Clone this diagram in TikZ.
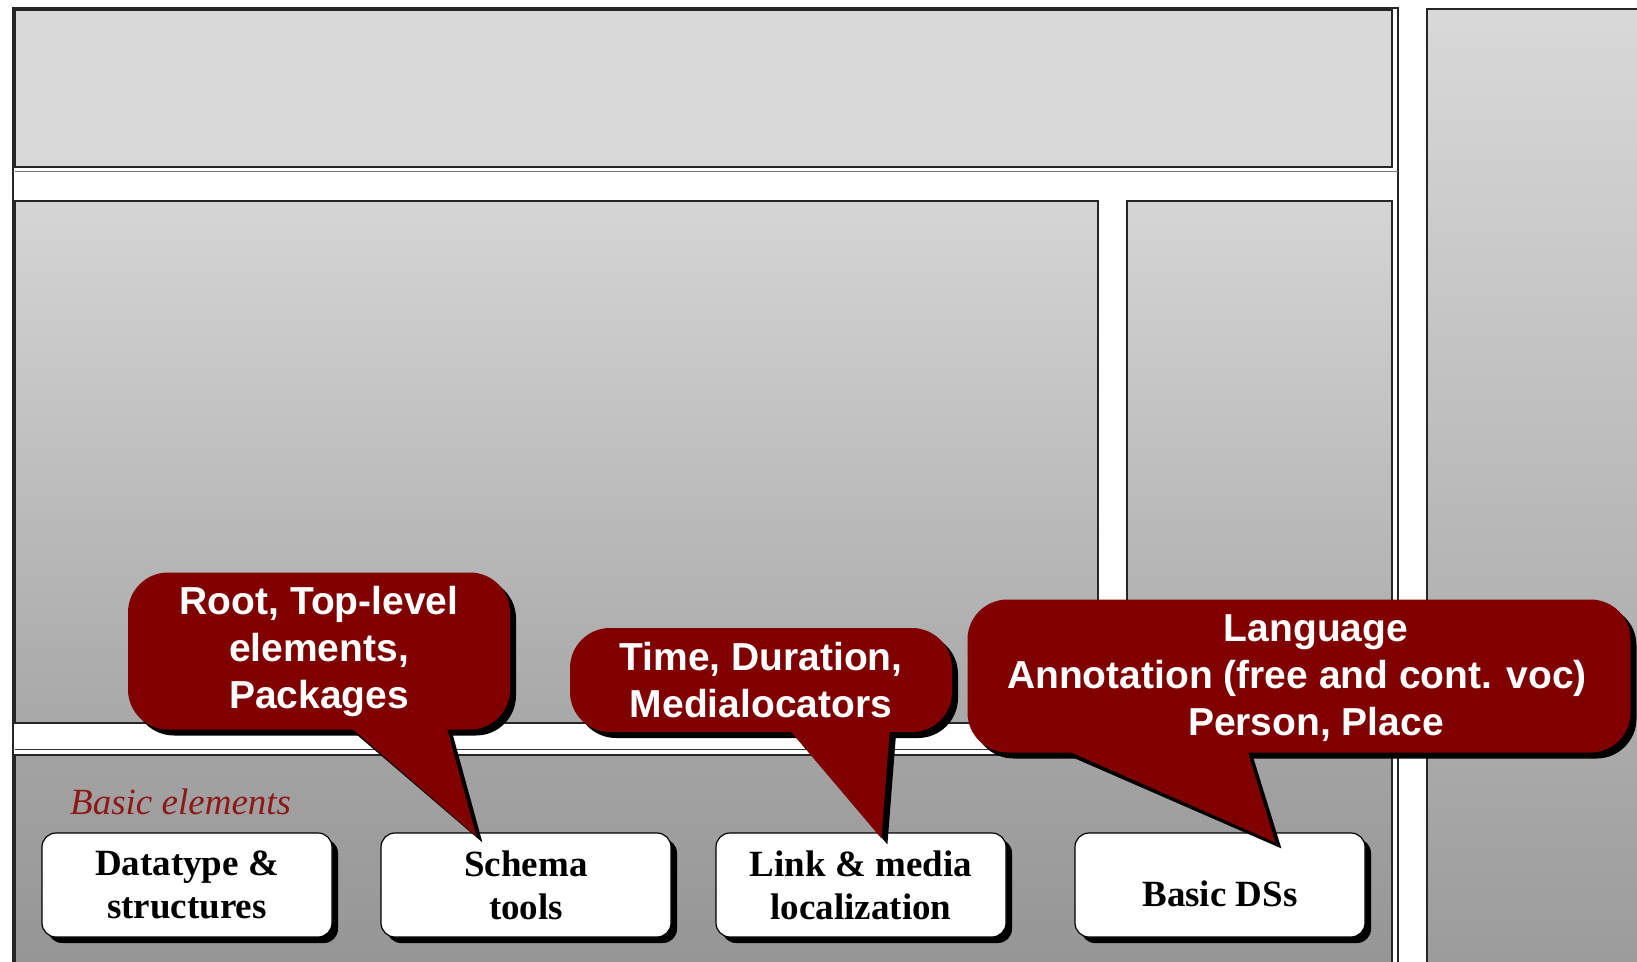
\documentclass[tikz,border=0pt]{standalone}
\usepackage{fontspec}
\setmainfont{Liberation Serif}
\setsansfont{Liberation Sans}
\usetikzlibrary{shadows}

\definecolor{notered}{RGB}{128,0,0}
\definecolor{titlered}{RGB}{140,24,24}
\definecolor{topgray}{RGB}{217,217,217}
\definecolor{midtop}{RGB}{213,213,213}
\definecolor{midbot}{RGB}{168,168,168}
\definecolor{lowtop}{RGB}{163,163,163}
\definecolor{lowbot}{RGB}{149,149,149}
\definecolor{sidebot}{RGB}{155,155,155}

\tikzset{
  panel/.style={draw=black!85, line width=1.5pt},
  elembox/.style={draw=black, line width=1.2pt, fill=white, rounded corners=14pt,
    minimum width=290pt, minimum height=104pt, align=center, inner sep=2pt,
    text depth=0pt, font=\fontsize{37}{43}\selectfont\bfseries,
    drop shadow={shadow xshift=6pt, shadow yshift=-6pt, fill=black, opacity=1}},
  bubble/.style={fill=notered, rounded corners=40pt, align=center, inner sep=4pt,
    text=white, font=\fontsize{39}{47}\selectfont\sffamily\bfseries,
    drop shadow={shadow xshift=6pt, shadow yshift=-6pt, fill=black, opacity=1}},
  tail/.style={fill=notered},
  tailshade/.style={fill=black}
}

\begin{document}
\begin{tikzpicture}[x=1pt, y=-1pt]
  \useasboundingbox (0,0) rectangle (1637,961);

  % layer panels
  \draw[panel, fill=white] (13,8) rectangle (1398,975);
  \draw[panel, fill=topgray] (15,10) rectangle (1392,167);
  \draw[black!55, line width=1pt] (15,171) -- (1398,171);
  \draw[panel, top color=midtop, bottom color=midbot] (15,201) rectangle (1098,723);
  \draw[panel, top color=midtop, bottom color=midbot] (1127,201) rectangle (1392,723);
  \draw[black!80, line width=1pt] (15,749) -- (1398,749);
  \draw[panel, top color=lowtop, bottom color=lowbot] (15,755) rectangle (1392,975);
  \draw[panel, top color=topgray, bottom color=sidebot] (1427,9) rectangle (1650,975);

  % basic elements
  \node[anchor=west, inner sep=0pt, text=titlered,
    font=\fontsize{37}{43}\selectfont\itshape] (basiclabel) at (70,802) {Basic elements};
  \node[elembox] (datatype) at (187,885) {Datatype \&\\structures};
  \node[elembox] (schema) at (526,885) {Schema\\tools};
  \node[elembox] (linkmedia) at (861,885) {Link \& media\\localization};
  \node[elembox] (basicds) at (1220,885) {\raisebox{-9pt}[\height][0pt]{Basic DSs}};

  % callouts
  \node[bubble, minimum width=382pt, minimum height=157pt] (rootnote) at (319,651)
    {Root, Top-level\\elements,\\Packages};
  \coordinate (roottip) at ([xshift=96pt, yshift=-4pt]schema.north west);
  \fill[tailshade] ([shift={(229pt,-5pt)}]rootnote.south west)
    -- ([shift={(325pt,-5pt)}]rootnote.south west) -- ([shift={(6pt,-6pt)}]roottip) -- cycle;
  \fill[tail] ([shift={(223pt,2pt)}]rootnote.south west)
    -- ([shift={(319pt,2pt)}]rootnote.south west) -- (roottip) -- cycle;

  \node[bubble, minimum width=382pt, minimum height=104pt] (timenote) at (761,680)
    {Time, Duration,\\Medialocators};
  \coordinate (timetip) at ([xshift=166pt, yshift=-6pt]linkmedia.north west);
  \fill[tailshade] ([shift={(226pt,-5pt)}]timenote.south west)
    -- ([shift={(326pt,-5pt)}]timenote.south west) -- ([shift={(6pt,-6pt)}]timetip) -- cycle;
  \fill[tail] ([shift={(220pt,2pt)}]timenote.south west)
    -- ([shift={(320pt,2pt)}]timenote.south west) -- (timetip) -- cycle;

  \node[bubble, minimum width=663pt, minimum height=153pt] (langnote) at (1299,676) {};
  \node[text=white, align=center, inner sep=0pt,
    font=\fontsize{39}{47}\selectfont\sffamily\bfseries] (langtext) at (1316,678)
    {Language\\Annotation (free and cont. voc)\rule{38pt}{0pt}\\Person, Place};
  \coordinate (langtip) at ([xshift=201pt, yshift=-10pt]basicds.north west);
  \fill[tailshade] ([shift={(106pt,-5pt)}]langnote.south west)
    -- ([shift={(286pt,-5pt)}]langnote.south west) -- ([shift={(6pt,-6pt)}]langtip) -- cycle;
  \fill[tail] ([shift={(100pt,2pt)}]langnote.south west)
    -- ([shift={(280pt,2pt)}]langnote.south west) -- (langtip) -- cycle;
\end{tikzpicture}
\end{document}
